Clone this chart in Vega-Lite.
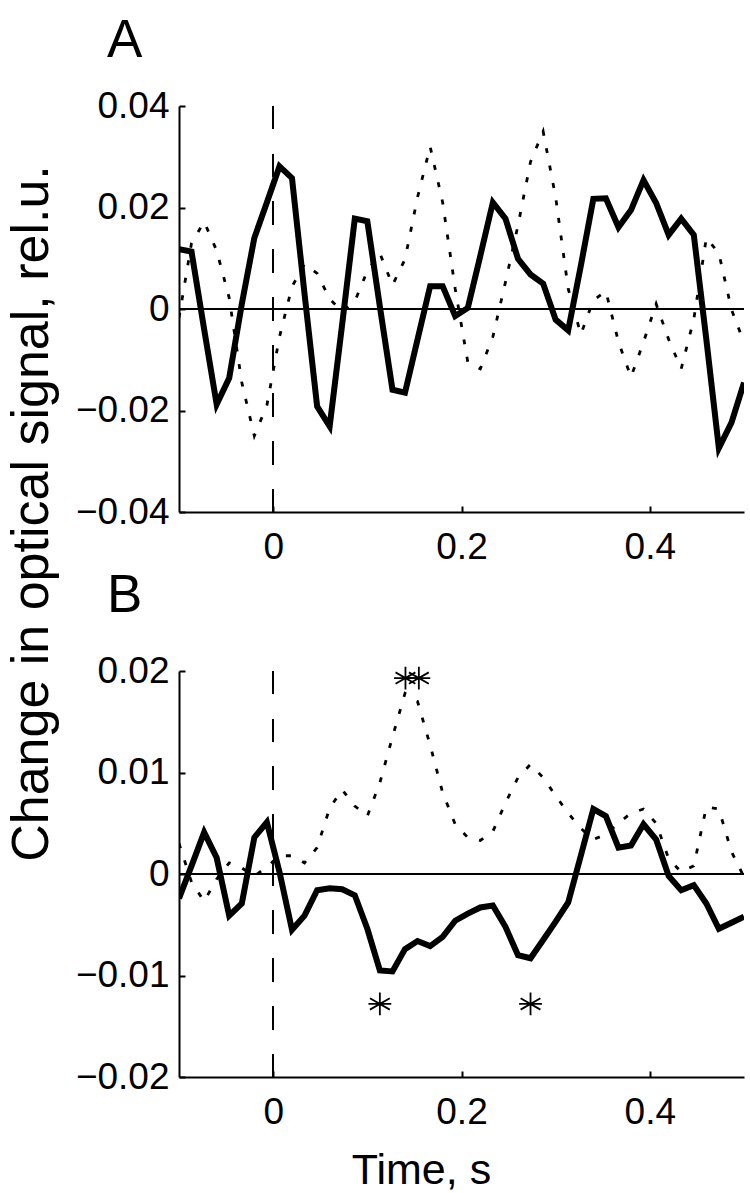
{
  "$schema": "https://vega.github.io/schema/vega-lite/v6.json",
  "background": "white",
  "padding": {"left": 4, "top": 15, "right": 0, "bottom": 0},
  "config": {
    "view": {"stroke": null},
    "font": "Liberation Sans",
    "axis": {
      "domainColor": "black", "domainWidth": 2, "tickColor": "black", "tickWidth": 2, "tickSize": -6,
      "labelColor": "black", "labelFont": "Liberation Sans", "labelFontSize": 37, "grid": false,
      "titleFont": "Liberation Sans", "titleColor": "black", "titleFontWeight": "normal"
    }
  },
  "datasets": {
    "A": [
      {"t": -0.1, "s": 0.0118, "d": -0.0017},
      {"t": -0.0867, "s": 0.0113, "d": 0.013},
      {"t": -0.0733, "s": -0.004, "d": 0.0172},
      {"t": -0.06, "s": -0.0188, "d": 0.0115},
      {"t": -0.0467, "s": -0.0136, "d": 0.0022},
      {"t": -0.0333, "s": 0.001, "d": -0.0145},
      {"t": -0.02, "s": 0.014, "d": -0.025},
      {"t": -0.0067, "s": 0.021, "d": -0.019},
      {"t": 0.0067, "s": 0.0281, "d": -0.0055},
      {"t": 0.02, "s": 0.0258, "d": 0.0044},
      {"t": 0.0333, "s": 0.003, "d": 0.0089},
      {"t": 0.0467, "s": -0.0192, "d": 0.007},
      {"t": 0.06, "s": -0.0231, "d": 0.002},
      {"t": 0.0733, "s": -0.003, "d": -0.0005},
      {"t": 0.0867, "s": 0.0178, "d": 0.0015},
      {"t": 0.1, "s": 0.0173, "d": 0.0075},
      {"t": 0.1133, "s": 0.0005, "d": 0.011},
      {"t": 0.1267, "s": -0.0159, "d": 0.0047},
      {"t": 0.14, "s": -0.0165, "d": 0.0098},
      {"t": 0.1533, "s": -0.006, "d": 0.022},
      {"t": 0.1667, "s": 0.0045, "d": 0.032},
      {"t": 0.18, "s": 0.0045, "d": 0.021},
      {"t": 0.1933, "s": -0.0014, "d": 0.004},
      {"t": 0.2067, "s": 0.0002, "d": -0.0105},
      {"t": 0.22, "s": 0.0105, "d": -0.0118},
      {"t": 0.2333, "s": 0.021, "d": -0.0055},
      {"t": 0.2467, "s": 0.0178, "d": 0.0053},
      {"t": 0.26, "s": 0.0099, "d": 0.0165},
      {"t": 0.2733, "s": 0.0068, "d": 0.029},
      {"t": 0.2867, "s": 0.005, "d": 0.035},
      {"t": 0.3, "s": -0.0021, "d": 0.022},
      {"t": 0.3133, "s": -0.0042, "d": 0.004},
      {"t": 0.3267, "s": 0.0085, "d": -0.005},
      {"t": 0.34, "s": 0.0217, "d": 0.0017},
      {"t": 0.3533, "s": 0.0218, "d": 0.0035},
      {"t": 0.3667, "s": 0.0161, "d": -0.0065},
      {"t": 0.38, "s": 0.0195, "d": -0.0134},
      {"t": 0.3933, "s": 0.0254, "d": -0.0065},
      {"t": 0.4067, "s": 0.0209, "d": 0.001},
      {"t": 0.42, "s": 0.0146, "d": -0.006},
      {"t": 0.4333, "s": 0.0178, "d": -0.0118},
      {"t": 0.4467, "s": 0.0146, "d": -0.002},
      {"t": 0.46, "s": -0.006, "d": 0.014},
      {"t": 0.4733, "s": -0.0274, "d": 0.011},
      {"t": 0.4867, "s": -0.0224, "d": -0.0001},
      {"t": 0.5, "s": -0.0145, "d": -0.0066}
    ],
    "B": [
      {"t": -0.1, "s": -0.0024, "d": 0.003},
      {"t": -0.0867, "s": 0.0008, "d": -0.0008},
      {"t": -0.0733, "s": 0.0041, "d": -0.0027},
      {"t": -0.06, "s": 0.0016, "d": -0.0005},
      {"t": -0.0467, "s": -0.0041, "d": 0.0011},
      {"t": -0.0333, "s": -0.0029, "d": 0.0006},
      {"t": -0.02, "s": 0.0036, "d": -0.0002},
      {"t": -0.0067, "s": 0.0051, "d": 0.0007},
      {"t": 0.0067, "s": 0.0002, "d": 0.0018},
      {"t": 0.02, "s": -0.0055, "d": 0.0018},
      {"t": 0.0333, "s": -0.0041, "d": 0.0011},
      {"t": 0.0467, "s": -0.0016, "d": 0.0026},
      {"t": 0.06, "s": -0.0014, "d": 0.0065},
      {"t": 0.0733, "s": -0.0015, "d": 0.0083},
      {"t": 0.0867, "s": -0.0021, "d": 0.0067},
      {"t": 0.1, "s": -0.0054, "d": 0.0057},
      {"t": 0.1133, "s": -0.0095, "d": 0.009},
      {"t": 0.1267, "s": -0.0096, "d": 0.0135},
      {"t": 0.14, "s": -0.0074, "d": 0.0178},
      {"t": 0.1533, "s": -0.0066, "d": 0.017},
      {"t": 0.1667, "s": -0.0071, "d": 0.0127},
      {"t": 0.18, "s": -0.0062, "d": 0.008},
      {"t": 0.1933, "s": -0.0046, "d": 0.0049},
      {"t": 0.2067, "s": -0.0039, "d": 0.0036},
      {"t": 0.22, "s": -0.0033, "d": 0.0033},
      {"t": 0.2333, "s": -0.0031, "d": 0.0042},
      {"t": 0.2467, "s": -0.0052, "d": 0.007},
      {"t": 0.26, "s": -0.008, "d": 0.0095},
      {"t": 0.2733, "s": -0.0083, "d": 0.0108},
      {"t": 0.2867, "s": -0.0065, "d": 0.0095},
      {"t": 0.3, "s": -0.0047, "d": 0.0077},
      {"t": 0.3133, "s": -0.0028, "d": 0.006},
      {"t": 0.3267, "s": 0.0018, "d": 0.0045},
      {"t": 0.34, "s": 0.0064, "d": 0.0034},
      {"t": 0.3533, "s": 0.0057, "d": 0.0039},
      {"t": 0.3667, "s": 0.0026, "d": 0.005},
      {"t": 0.38, "s": 0.0028, "d": 0.006},
      {"t": 0.3933, "s": 0.0049, "d": 0.0064},
      {"t": 0.4067, "s": 0.0034, "d": 0.005},
      {"t": 0.42, "s": -0.0002, "d": 0.0015},
      {"t": 0.4333, "s": -0.0016, "d": 0.0002},
      {"t": 0.4467, "s": -0.0011, "d": 0.0008},
      {"t": 0.46, "s": -0.0029, "d": 0.0066},
      {"t": 0.4733, "s": -0.0054, "d": 0.0064},
      {"t": 0.4867, "s": -0.0048, "d": 0.0022},
      {"t": 0.5, "s": -0.0042, "d": -0.0003}
    ],
    "stars": [
      {"t": 0.1405, "v": 0.0193},
      {"t": 0.1547, "v": 0.0193},
      {"t": 0.1133, "v": -0.0128},
      {"t": 0.2733, "v": -0.0128}
    ]
  },
  "spacing": 159,
  "bounds": "flush",
  "vconcat": [
    {
      "width": 565,
      "height": 406,
      "title": {"text": "A", "anchor": "start", "frame": "group", "dx": -72, "offset": -23, "fontSize": 53, "fontWeight": "normal", "baseline": "alphabetic", "color": "black", "font": "Liberation Sans"},
      "data": {"name": "A"},
      "layer": [
        {"mark": {"type": "rule", "color": "black", "strokeWidth": 1.5}, "encoding": {"y": {"datum": 0, "type": "quantitative"}}},
        {"mark": {"type": "rule", "color": "black", "strokeWidth": 1.5, "strokeDash": [23, 24.9]}, "encoding": {"x": {"datum": 0, "type": "quantitative"}}},
        {
          "mark": {"type": "line", "color": "black", "strokeWidth": 2.8, "strokeDash": [5, 12.7], "clip": true},
          "encoding": {
            "x": {"field": "t", "type": "quantitative", "scale": {"domain": [-0.1, 0.5], "nice": false, "zero": false},
                  "axis": {"values": [0, 0.2, 0.4], "format": ".1~f", "title": null, "labelPadding": 23}},
            "y": {"field": "d", "type": "quantitative", "scale": {"domain": [-0.04, 0.04], "nice": false, "zero": false},
                  "axis": {"values": [-0.04, -0.02, 0, 0.02, 0.04], "format": ".2~f", "labelPadding": 16,
                           "title": "Change in optical signal, rel.u.", "titleFontSize": 52, "titleAngle": -90,
                           "titleX": -132, "titleY": 407, "titleAlign": "center", "titleBaseline": "alphabetic"}}
          }
        },
        {
          "mark": {"type": "line", "color": "black", "strokeWidth": 6, "clip": true},
          "encoding": {
            "x": {"field": "t", "type": "quantitative", "axis": {"title": null}},
            "y": {"field": "s", "type": "quantitative", "axis": {"title": "Change in optical signal, rel.u."}}
          }
        }
      ]
    },
    {
      "width": 565,
      "height": 406,
      "title": {"text": "B", "anchor": "start", "frame": "group", "dx": -72, "offset": -13, "fontSize": 53, "fontWeight": "normal", "baseline": "alphabetic", "color": "black", "font": "Liberation Sans"},
      "layer": [
        {"data": {"name": "B"}, "mark": {"type": "rule", "color": "black", "strokeWidth": 1.5}, "encoding": {"y": {"datum": 0, "type": "quantitative"}}},
        {"data": {"name": "B"}, "mark": {"type": "rule", "color": "black", "strokeWidth": 1.5, "strokeDash": [23, 24.9]}, "encoding": {"x": {"datum": 0, "type": "quantitative"}}},
        {
          "data": {"name": "B"},
          "mark": {"type": "line", "color": "black", "strokeWidth": 2.8, "strokeDash": [5, 12.7], "clip": true},
          "encoding": {
            "x": {"field": "t", "type": "quantitative", "scale": {"domain": [-0.1, 0.5], "nice": false, "zero": false},
                  "axis": {"values": [0, 0.2, 0.4], "format": ".1~f", "labelPadding": 23,
                           "title": "Time, s", "titleFontSize": 43, "titleX": 242, "titleY": 106, "titleAlign": "center", "titleBaseline": "alphabetic"}},
            "y": {"field": "d", "type": "quantitative", "scale": {"domain": [-0.02, 0.02], "nice": false, "zero": false},
                  "axis": {"values": [-0.02, -0.01, 0, 0.01, 0.02], "format": ".2~f", "labelPadding": 16, "title": null}}
          }
        },
        {
          "data": {"name": "B"},
          "mark": {"type": "line", "color": "black", "strokeWidth": 6, "clip": true},
          "encoding": {
            "x": {"field": "t", "type": "quantitative", "axis": {"title": "Time, s"}},
            "y": {"field": "s", "type": "quantitative", "axis": {"title": null}}
          }
        },
        {
          "data": {"name": "stars"},
          "mark": {"type": "point", "shape": "M0,-1L0,1M-0.87,-0.5L0.87,0.5M-0.87,0.5L0.87,-0.5M-1,0L1,0", "filled": false, "color": "black", "strokeWidth": 1.8, "size": 520, "opacity": 1},
          "encoding": {
            "x": {"field": "t", "type": "quantitative", "axis": {"title": "Time, s"}},
            "y": {"field": "v", "type": "quantitative", "axis": {"title": null}}
          }
        }
      ]
    }
  ]
}
